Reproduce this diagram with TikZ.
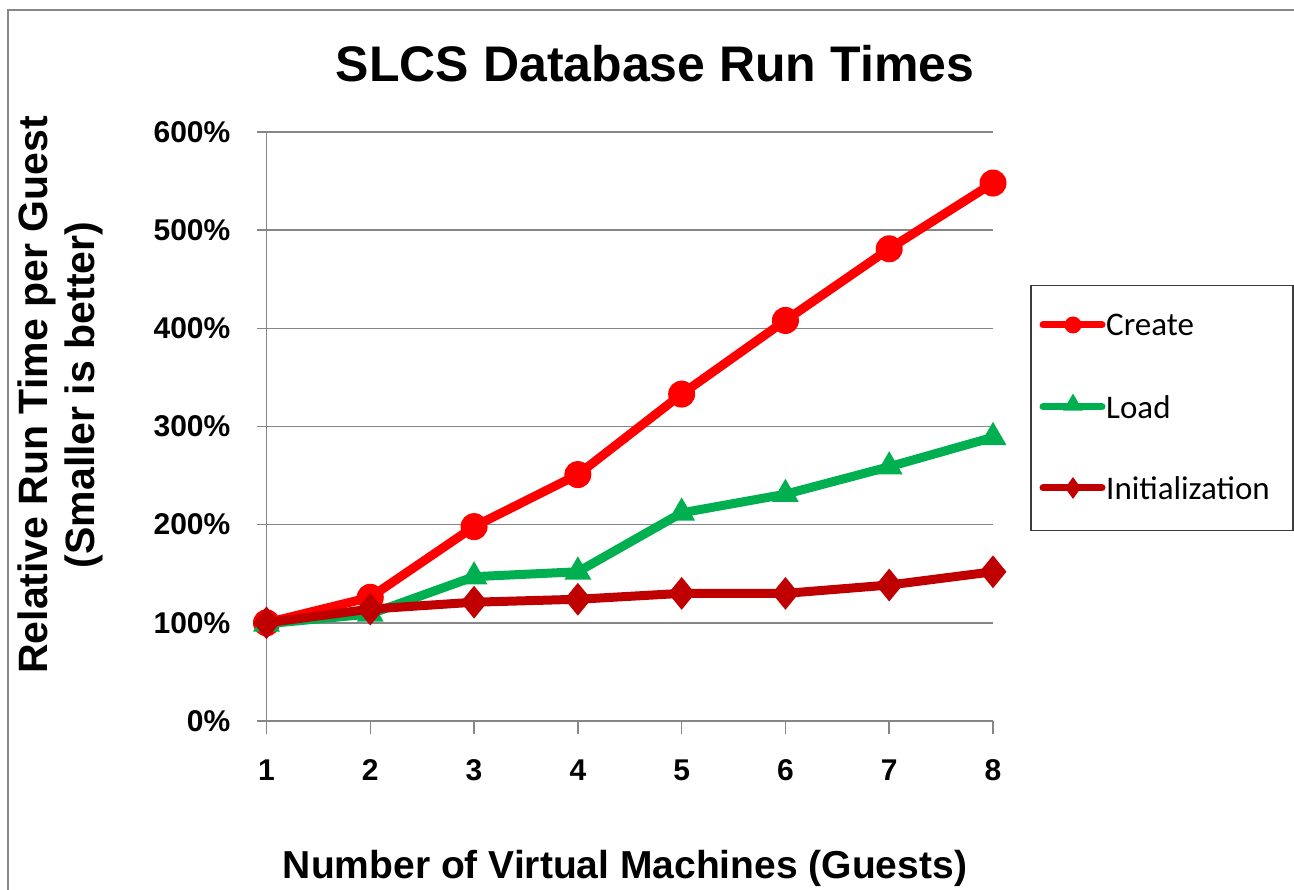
\documentclass[tikz,border=0pt]{standalone}
\usepackage{fontspec}
\setmainfont{Liberation Sans}
\newfontfamily\legendfont{Carlito}
\usetikzlibrary{shapes.geometric}

\definecolor{createred}{RGB}{255,0,0}
\definecolor{loadgreen}{RGB}{0,176,80}
\definecolor{initred}{RGB}{192,0,0}
\definecolor{gridgray}{RGB}{134,134,134}
\definecolor{framegray}{RGB}{136,136,136}
\definecolor{legendframe}{RGB}{60,60,60}

\begin{document}
\begin{tikzpicture}[x=1pt,y=1pt,
  gridline/.style={draw=gridgray, line width=1.5pt},
  ticklabel/.style={font=\fontsize{30}{36}\selectfont\bfseries, inner sep=0pt},
  series/.style={line width=9pt, line join=round, line cap=round},
  circmark/.style={circle, fill=createred, minimum size=27pt, inner sep=0pt},
  trimark/.style={regular polygon, regular polygon sides=3, fill=loadgreen, minimum size=31pt, inner sep=0pt},
  diamark/.style={diamond, fill=initred, minimum width=27pt, minimum height=33pt, inner sep=0pt},
  legendline/.style={line width=7pt, line cap=round},
  legendtext/.style={font=\legendfont\fontsize{33}{40}\selectfont, inner sep=0pt, anchor=west},
]
\useasboundingbox (0,0) rectangle (1294,890);

% chart frame (left and top edges)
\draw[framegray, line width=2.7pt] (8,0) -- (8,880) -- (1294,880);

% title
\node[font=\fontsize{50}{60}\selectfont\bfseries, anchor=base] (title) at (655,808) {SLCS Database Run Times};

% axis titles
\node[font=\fontsize{39}{47}\selectfont\bfseries, anchor=base] (xtitle) at (625,11) {Number of Virtual Machines (Guests)};
\node[font=\fontsize{41}{47}\selectfont\bfseries, rotate=90, align=center] (ytitle) at (60,495)
  {Relative Run Time per Guest\\(Smaller is better)};

% plot area in data units: x = guests, y = percent
\begin{scope}[shift={(162.714pt,169pt)}, x=103.786pt, y=0.98167pt]
  % horizontal grid lines with left ticks
  \foreach \v in {0,100,...,600} {
    \draw[gridline] ([xshift=-10pt]1,\v) -- (8,\v);
    \node[ticklabel, anchor=east] (yl\v) at ([xshift=-36pt]1,\v) {\v\%};
  }
  % vertical axis and bottom ticks
  \draw[gridline] ([yshift=-13pt]1,0) -- (1,600);
  \foreach \i in {2,...,8}
    \draw[gridline] (\i,0) -- ([yshift=-13pt]\i,0);
  \foreach \i in {1,...,8}
    \node[ticklabel] (xl\i) at ([yshift=-49pt]\i,0) {\i};

  % Create series
  \foreach \v [count=\i] in {100,126,198,251,333,408,481,548}
    \coordinate (c\i) at (\i,\v);
  \draw[series, createred] (c1) -- (c2) -- (c3) -- (c4) -- (c5) -- (c6) -- (c7) -- (c8);
  \foreach \i in {1,...,8}
    \node[circmark] (cm\i) at (c\i) {};

  % Load series
  \foreach \v [count=\i] in {99,109,147,152,212,231,259,289}
    \coordinate (l\i) at (\i,\v);
  \draw[series, loadgreen] (l1) -- (l2) -- (l3) -- (l4) -- (l5) -- (l6) -- (l7) -- (l8);
  \foreach \i in {1,...,8}
    \node[trimark] (lm\i) at (l\i) {};

  % Initialization series
  \foreach \v [count=\i] in {100,114,121,124,130,130,138.5,152}
    \coordinate (n\i) at (\i,\v);
  \draw[series, initred] (n1) -- (n2) -- (n3) -- (n4) -- (n5) -- (n6) -- (n7) -- (n8);
  \foreach \i in {1,...,8}
    \node[diamark] (nm\i) at (n\i) {};
\end{scope}

% legend
\node[draw=legendframe, line width=1.5pt, minimum width=262pt, minimum height=245pt,
      inner sep=0pt, anchor=north west] (legend) at (1030,605) {};

\coordinate (lga) at (1043,565);
\coordinate (lgb) at (1102,565);
\draw[legendline, createred] (lga) -- (lgb);
\node[circle, fill=createred, minimum size=17pt, inner sep=0pt] (lgcm) at (1073,565) {};
\node[legendtext] (lgct) at (1106,565) {Create};

\coordinate (lla) at (1043,483);
\coordinate (llb) at (1102,483);
\draw[legendline, loadgreen] (lla) -- (llb);
\node[regular polygon, regular polygon sides=3, fill=loadgreen, minimum size=23pt, inner sep=0pt] (lglm) at (1073,485) {};
\node[legendtext] (lglt) at (1106,483) {Load};

\coordinate (lna) at (1043,402);
\coordinate (lnb) at (1102,402);
\draw[legendline, initred] (lna) -- (lnb);
\node[diamond, fill=initred, minimum width=16pt, minimum height=22pt, inner sep=0pt] (lgnm) at (1073,402) {};
\node[legendtext] (lgnt) at (1106,402) {Initialization};
\end{tikzpicture}
\end{document}
